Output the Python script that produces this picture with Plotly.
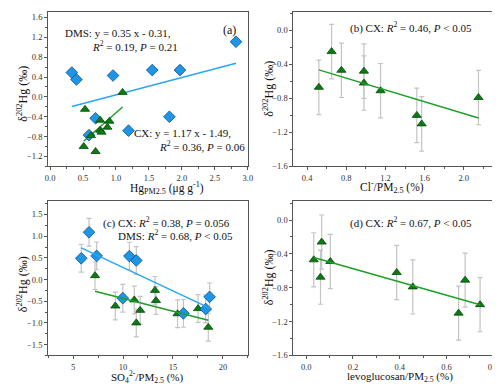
import plotly.graph_objects as go

# ---------------- data ----------------
# (a) Hg_PM2.5 vs d202Hg
a_dms_x = [0.33, 0.40, 0.955, 1.55, 1.97, 2.82, 1.81, 1.19, 0.69, 0.59]
a_dms_y = [0.49, 0.35, 0.43, 0.54, 0.54, 1.11, -0.40, -0.68, -0.43, -0.77]
a_cx_x = [0.53, 1.10, 0.76, 0.90, 0.87, 0.76, 0.78, 0.62, 0.51, 0.69]
a_cx_y = [-0.25, 0.09, -0.47, -0.49, -0.61, -0.67, -0.71, -0.78, -1.00, -1.10]
a_dms_fit = [0.35, -0.31]   # slope, intercept
a_cx_fit = [1.17, -1.49]

# (b) Cl-/PM2.5
b_x = [0.52, 0.65, 0.75, 0.98, 0.98, 1.15, 1.52, 1.57, 2.15]
b_y = [-0.67, -0.25, -0.47, -0.48, -0.62, -0.71, -1.00, -1.10, -0.79]
b_err = [0.32] * 9
b_fit_x = [0.52, 2.15]
b_fit_y = [-0.465, -1.03]

# (c) SO4 2-/PM2.5
c_dms_x = [5.82, 6.6, 7.36, 10.64, 11.33, 9.98, 16.05, 18.28, 18.67]
c_dms_y = [0.49, 1.09, 0.545, 0.54, 0.44, -0.43, -0.78, -0.68, -0.40]
c_dms_err = [0.32] * 9
c_cx_x = [7.2, 9.23, 11.13, 11.33, 11.72, 13.2, 13.3, 15.46, 17.52, 18.54]
c_cx_y = [0.09, -0.61, -0.47, -1.00, -0.71, -0.25, -0.485, -0.79, -0.67, -1.10]
c_cx_err = [0.32] * 10
c_dms_fit_x = [5.82, 18.67]
c_dms_fit_y = [0.73, -0.66]
c_cx_fit_x = [7.2, 18.54]
c_cx_fit_y = [-0.27, -0.94]

# (d) levoglucosan/PM2.5
d_x = [0.032, 0.066, 0.061, 0.103, 0.387, 0.456, 0.652, 0.68, 0.744]
d_y = [-0.47, -0.26, -0.675, -0.49, -0.62, -0.79, -1.10, -0.71, -1.00]
d_err = [0.32] * 9
d_fit_x = [0.032, 0.744]
d_fit_y = [-0.443, -1.00]

# ---------------- style ----------------
BLUE_FILL = "#1E96E8"
BLUE_EDGE = "#0B4F8A"
BLUE_LINE = "#2AA6F2"
GREEN_FILL = "#0A7A12"
GREEN_EDGE = "#064A0A"
GREEN_LINE = "#1F9E2A"
ERR = "#C4C4C4"
SERIF = "Liberation Serif"

W, H = 500, 386


def px(x):
    return x / W


def py(y):
    return 1 - y / H


fig = go.Figure()

diamond = dict(symbol="diamond", size=9, color=BLUE_FILL, line=dict(color=BLUE_EDGE, width=0.8))
tri = dict(symbol="triangle-up", size=8, color=GREEN_FILL, line=dict(color=GREEN_EDGE, width=0.8))
errstyle = dict(type="data", color=ERR, thickness=1.2, width=2.5)

# (a)
for slope_int, xs, col in [(a_dms_fit, a_dms_x, BLUE_LINE), (a_cx_fit, a_cx_x, GREEN_LINE)]:
    x0, x1 = min(xs), max(xs)
    fig.add_trace(go.Scatter(x=[x0, x1], y=[slope_int[0] * x0 + slope_int[1], slope_int[0] * x1 + slope_int[1]],
                             mode="lines", line=dict(color=col, width=1.5), xaxis="x", yaxis="y"))
fig.add_trace(go.Scatter(x=a_dms_x, y=a_dms_y, mode="markers", marker=diamond, xaxis="x", yaxis="y"))
fig.add_trace(go.Scatter(x=a_cx_x, y=a_cx_y, mode="markers", marker=tri, xaxis="x", yaxis="y"))

# (b)
fig.add_trace(go.Scatter(x=b_x, y=b_y, mode="markers", marker=tri,
                         error_y=dict(array=b_err, **errstyle), xaxis="x2", yaxis="y2"))
fig.add_trace(go.Scatter(x=b_fit_x, y=b_fit_y, mode="lines", line=dict(color=GREEN_LINE, width=1.5),
                         xaxis="x2", yaxis="y2"))

# (c)
fig.add_trace(go.Scatter(x=c_cx_x, y=c_cx_y, mode="markers", marker=tri,
                         error_y=dict(array=c_cx_err, **errstyle), xaxis="x3", yaxis="y3"))
fig.add_trace(go.Scatter(x=c_dms_x, y=c_dms_y, mode="markers", marker=diamond,
                         error_y=dict(array=c_dms_err, **errstyle), xaxis="x3", yaxis="y3"))
fig.add_trace(go.Scatter(x=c_dms_fit_x, y=c_dms_fit_y, mode="lines", line=dict(color=BLUE_LINE, width=1.5),
                         xaxis="x3", yaxis="y3"))
fig.add_trace(go.Scatter(x=c_cx_fit_x, y=c_cx_fit_y, mode="lines", line=dict(color=GREEN_LINE, width=1.5),
                         xaxis="x3", yaxis="y3"))

# (d)
fig.add_trace(go.Scatter(x=d_x, y=d_y, mode="markers", marker=tri,
                         error_y=dict(array=d_err, **errstyle), xaxis="x4", yaxis="y4"))
fig.add_trace(go.Scatter(x=d_fit_x, y=d_fit_y, mode="lines", line=dict(color=GREEN_LINE, width=1.5),
                         xaxis="x4", yaxis="y4"))


def ax(domain, rng, dtick, minor, fmt, anchor, tick0=None):
    d = dict(domain=domain, range=rng, dtick=dtick, tickformat=fmt, anchor=anchor,
             showline=True, linecolor="#555555", linewidth=1, mirror=True,
             ticks="outside", ticklen=3, tickcolor="#555555", tickwidth=1,
             minor=dict(dtick=minor, ticks="outside", ticklen=2, tickcolor="#555555"),
             showgrid=False, zeroline=False,
             tickfont=dict(family=SERIF, size=8.5, color="#333333"))
    if tick0 is not None:
        d["tick0"] = tick0
    return d


xa = [px(37.7), px(240.7)]
xb = [px(287), px(490)]
ytop = [py(160.5), py(4.5)]
ybot = [py(352), py(196)]

fig.update_layout(
    width=W, height=H, margin=dict(l=0, r=0, t=0, b=0),
    paper_bgcolor="white", plot_bgcolor="white", showlegend=False,
    xaxis=ax(xa, [-0.03, 3.0], 0.5, 0.25, ".1f", "y", 0),
    yaxis=ax(ytop, [-1.4, 1.7], 0.4, 0.2, ".1f", "x", 0),
    xaxis2=ax(xb, [0.26, 2.3], 0.4, 0.2, ".1f", "y2", 0),
    yaxis2=ax(ytop, [-1.6, 0.21], 0.4, 0.2, ".1f", "x2", 0),
    xaxis3=ax(xa, [2.5, 22.5], 5, 2.5, "d", "y3", 0),
    yaxis3=ax(ybot, [-1.75, 1.8], 0.5, 0.25, ".1f", "x3", 0),
    xaxis4=ax(xb, [-0.055, 0.8], 0.2, 0.1, ".1f", "y4", 0),
    yaxis4=ax(ybot, [-1.6, 0.22], 0.4, 0.2, ".1f", "x4", 0),
)

anns = []


def note(text, x, y, size=11, anchor="left", angle=0):
    anns.append(dict(text=text, x=px(x), y=py(y), xref="paper", yref="paper",
                     xanchor=anchor, yanchor="middle", showarrow=False, textangle=angle,
                     font=dict(family=SERIF, size=size, color="#111111")))


R2 = "<i>R</i><sup>2</sup>"
P = "<i>P</i>"
note("DMS: y = 0.35 x - 0.31,", 53, 25)
note(f"{R2} = 0.19, {P} = 0.21", 80, 39)
note("(a)", 213, 22, size=12)
note("CX: y = 1.17 x - 1.49,", 123, 127)
note(f"{R2} = 0.36, {P} = 0.06", 148, 140)
note(f"(b) CX: {R2} = 0.46, {P} &lt; 0.05", 342, 20)
note(f"(c) CX: {R2} = 0.38, {P} = 0.056", 91, 217)
note(f"DMS: {R2} = 0.68, {P} &lt; 0.05", 107, 230)
note(f"(d) CX: {R2} = 0.67, {P} &lt; 0.05", 342, 217)

# axis titles
YT = "δ<sup>202</sup>Hg (‰)"
note(YT, 12, 87, size=12, anchor="center", angle=-90)
note(YT, 262, 82, size=12, anchor="center", angle=-90)
note(YT, 12, 280, size=12, anchor="center", angle=-90)
note(YT, 262, 273, size=12, anchor="center", angle=-90)
note("Hg<sub>PM2.5</sub> (μg g<sup>-1</sup>)", 159, 182, size=11.5, anchor="center")
note("Cl<sup>-</sup>/PM<sub>2.5</sub> (%)", 387, 181, size=11.5, anchor="center")
note("SO<sub>4</sub><sup>2-</sup>/PM<sub>2.5</sub> (%)", 138, 374, size=11, anchor="center")
note("levoglucosan/PM<sub>2.5</sub> (%)", 395, 374, size=11, anchor="center")

fig.update_layout(annotations=anns)
fig.write_html("out.html")
